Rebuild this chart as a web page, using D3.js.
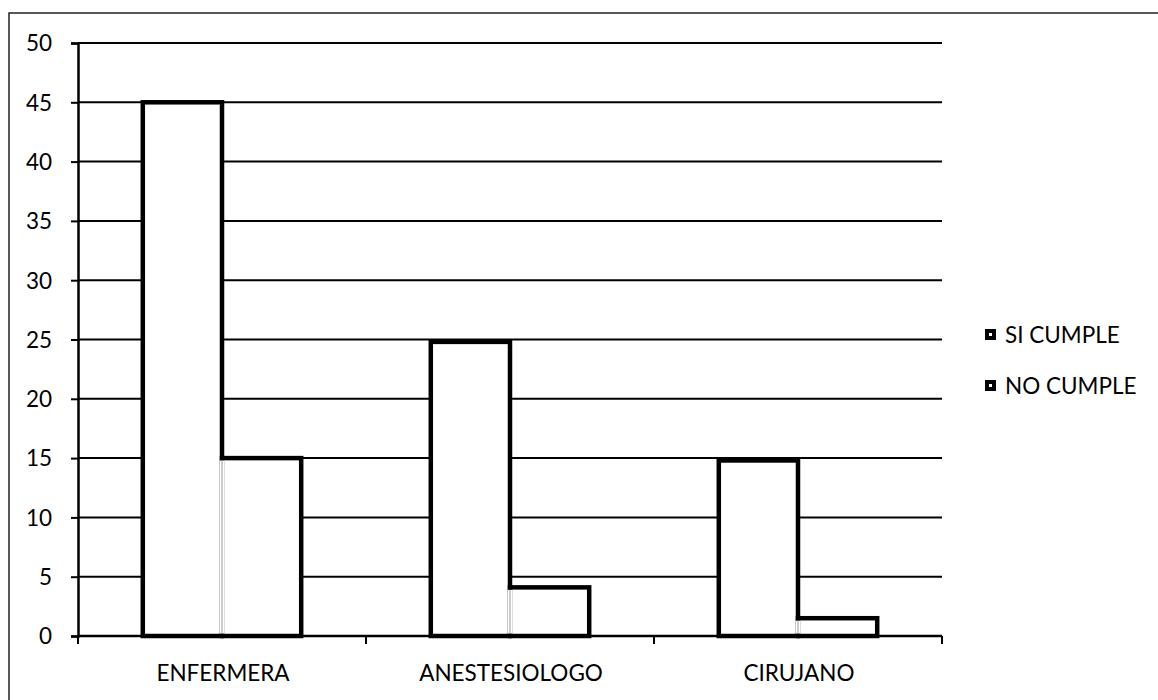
<!DOCTYPE html>
<html>
<head>
<meta charset="utf-8">
<script src="https://cdn.jsdelivr.net/npm/d3@7"></script>
<style>
  html, body { margin: 0; padding: 0; background: #fff; }
  svg { display: block; }
  text { font-family: Lato, "Open Sans", sans-serif; fill: #000; }
</style>
</head>
<body>
<svg id="chart" width="1158" height="700"></svg>
<script>
const categories = ["ENFERMERA", "ANESTESIOLOGO", "CIRUJANO"];
const seriesNames = ["SI CUMPLE", "NO CUMPLE"];
const siCumple = [45, 24.8, 14.8];
const noCumple = [15, 4.1, 1.5];
const yTicks = [0, 5, 10, 15, 20, 25, 30, 35, 40, 45, 50];

const svg = d3.select("#chart");
const plotLeft = 78, plotRight = 942, plotTop = 43, plotBottom = 636;
const fontSize = "22.5px";

// outer frame (left and top edges visible)
svg.append("path")
  .attr("d", "M9,700 L9,13 L1158,13")
  .attr("fill", "none").attr("stroke", "#222").attr("stroke-width", 1.5);

const y = d3.scaleLinear().domain([0, 50]).range([plotBottom, plotTop]);
const x0 = d3.scaleBand().domain(categories).range([plotLeft, plotRight])
  .paddingInner(0.45).paddingOuter(0.225);
const x1 = d3.scaleBand().domain(seriesNames).range([0, x0.bandwidth()]);

// gridlines
svg.append("g").selectAll("line").data(yTicks.filter(d => d > 0)).join("line")
  .attr("x1", plotLeft).attr("x2", plotRight)
  .attr("y1", d => y(d)).attr("y2", d => y(d))
  .attr("stroke", "#000").attr("stroke-width", 2);

// y axis
const yAxis = svg.append("g").attr("transform", `translate(${plotLeft},0)`)
  .call(d3.axisLeft(y).tickValues(yTicks).tickSize(7).tickPadding(19));
yAxis.attr("font-size", null).attr("font-family", null);
yAxis.select(".domain").attr("stroke", "#000").attr("stroke-width", 2.5);
yAxis.selectAll(".tick line").attr("stroke", "#000").attr("stroke-width", 2);
yAxis.selectAll(".tick text").style("font-size", fontSize).attr("dy", "0.35em");

// x axis
const xTickPos = d3.range(categories.length + 1).map(i => plotLeft + i * x0.step());
const xAxisG = svg.append("g");
xAxisG.append("line").attr("x1", plotLeft).attr("x2", plotRight).attr("y1", plotBottom).attr("y2", plotBottom)
  .attr("stroke", "#000").attr("stroke-width", 2.5);
xAxisG.selectAll("line.t").data(xTickPos).join("line").attr("class", "t")
  .attr("x1", d => d).attr("x2", d => d).attr("y1", plotBottom).attr("y2", plotBottom + 8)
  .attr("stroke", "#000").attr("stroke-width", 2);
xAxisG.selectAll("text").data(categories).join("text")
  .attr("x", d => x0(d) + x0.bandwidth() / 2 + 1)
  .attr("y", 681)
  .attr("text-anchor", "middle")
  .style("font-size", fontSize)
  .text(d => d);

// bars
const groups = svg.append("g").selectAll("g").data(categories).join("g")
  .attr("transform", d => `translate(${x0(d)},0)`);
groups.each(function(cat, i) {
  const g = d3.select(this);
  const vals = [siCumple[i], noCumple[i]];
  g.selectAll("rect").data(seriesNames).join("rect")
    .attr("x", s => x1(s))
    .attr("width", x1.bandwidth())
    .attr("y", (s, j) => y(vals[j]))
    .attr("height", (s, j) => plotBottom - y(vals[j]))
    .attr("fill", "#fff")
    .attr("stroke", "#000")
    .attr("stroke-width", 4.5);
  // thin interior divider
  const mid = x1(seriesNames[1]);
  const low = Math.min(vals[0], vals[1]);
  g.append("line").attr("x1", mid).attr("x2", mid)
    .attr("y1", y(low) + 2.5).attr("y2", plotBottom - 2.5)
    .attr("stroke", "#fff").attr("stroke-width", 5);
  g.append("line").attr("x1", mid).attr("x2", mid)
    .attr("y1", y(low) + 2.5).attr("y2", plotBottom - 2.5)
    .attr("stroke", "#999").attr("stroke-width", 1);
});

// legend
const legend = svg.append("g").selectAll("g").data(seriesNames).join("g")
  .attr("transform", (d, i) => `translate(985,${329 + i * 51})`);
legend.append("rect").attr("width", 11).attr("height", 11).attr("fill", "#000");
legend.append("rect").attr("x", 4).attr("y", 4).attr("width", 3).attr("height", 3).attr("fill", "#fff");
legend.append("text").attr("x", 20).attr("y", 14).style("font-size", fontSize).text(d => d);
</script>
</body>
</html>
